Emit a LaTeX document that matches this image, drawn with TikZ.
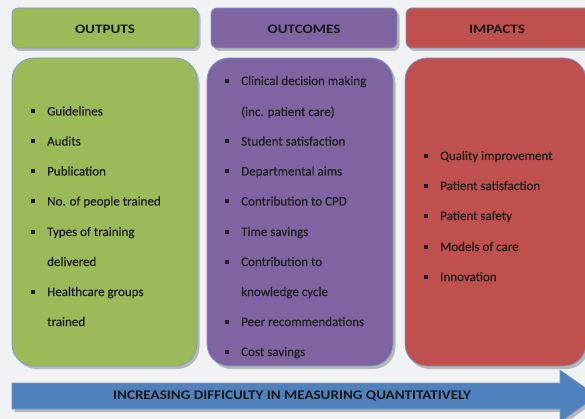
\documentclass[tikz,border=0pt]{standalone}
\usepackage{fontspec}
\setmainfont{Carlito}[FakeBold=0.6]
\newfontfamily\headfont[FakeStretch=1.17]{Carlito}
\newfontfamily\arrowfont[FakeStretch=1.14]{Carlito}
\usetikzlibrary{shadows}
\definecolor{bgc}{HTML}{F1F2F4}
\definecolor{grn}{HTML}{9BBB59}
\definecolor{ppl}{HTML}{8064A2}
\definecolor{rdd}{HTML}{C0504D}
\definecolor{blu}{HTML}{4F81BD}
\definecolor{edge}{HTML}{7A9BCB}
\newcommand{\bul}{\makebox[16pt][l]{\rule[2.4pt]{3.8pt}{3.8pt}}}
\tikzset{
  panel/.style={draw=edge, line width=0.8pt, drop shadow={shadow xshift=2.5pt, shadow yshift=-3pt, opacity=0.45, fill=black!55}},
  headbox/.style={panel, rounded corners=6pt},
  bodybox/.style={panel, rounded corners=22pt},
  headtext/.style={font=\headfont\bfseries\fontsize{12.9}{14}\selectfont, text=black!90},
  item/.style={anchor=base west, inner sep=0pt, font=\fontsize{13}{15}\selectfont, text=black!88},
  cont/.style={item, xshift=16pt}
}
\begin{document}
\begin{tikzpicture}[x=1pt, y=-1pt]
\useasboundingbox (0,0) rectangle (585,419);
\clip (0,0) rectangle (585,419);
\fill[bgc] (0,0) rectangle (585,419);

% column headers
\draw[headbox, fill=grn] (12,8) rectangle (198,48);
\draw[headbox, fill=ppl] (211,8) rectangle (397,48);
\draw[headbox, fill=rdd] (406,8) rectangle (610,48);
\node[headtext] (hout) at (105,29) {OUTPUTS};
\node[headtext] (hoc) at (304,29) {OUTCOMES};
\node[headtext] (himp) at (497,29) {IMPACTS};

% column bodies
\draw[bodybox, fill=grn] (12,58) rectangle (197,366);
\draw[bodybox, fill=ppl] (207,58) rectangle (393,366);
\draw[bodybox, fill=rdd] (405,58) rectangle (586,366);

% outputs
\node[item] (o1) at (31,115.5) {\bul Guidelines};
\node[item] (o2) at (31,145.5) {\bul Audits};
\node[item] (o3) at (31,175.5) {\bul Publication};
\node[item] (o4) at (31,205.5) {\bul No. of people trained};
\node[item] (o5) at (31,236) {\bul Types of training};
\node[cont] (o5b) at (31,266) {delivered};
\node[item] (o6) at (31,296) {\bul Healthcare groups};
\node[cont] (o6b) at (31,326) {trained};

% outcomes
\node[item] (c1) at (225,85) {\bul Clinical decision making};
\node[cont] (c1b) at (225,116) {(inc. patient care)};
\node[item] (c2) at (225,145.5) {\bul Student satisfaction};
\node[item] (c3) at (225,175.5) {\bul Departmental aims};
\node[item] (c4) at (225,205.5) {\bul Contribution to CPD};
\node[item] (c5) at (225,236) {\bul Time savings};
\node[item] (c6) at (225,266) {\bul Contribution to};
\node[cont] (c6b) at (225,296) {knowledge cycle};
\node[item] (c7) at (225,326) {\bul Peer recommendations};
\node[item] (c8) at (225,356) {\bul Cost savings};

% impacts
\node[item] (i1) at (424,160) {\bul Quality improvement};
\node[item] (i2) at (424,190) {\bul Patient satisfaction};
\node[item] (i3) at (424,220) {\bul Patient safety};
\node[item] (i4) at (424,251) {\bul Models of care};
\node[item] (i5) at (424,281) {\bul Innovation};

% difficulty arrow
\draw[draw=edge, line width=0.6pt, fill=blu, drop shadow={shadow xshift=2.5pt, shadow yshift=-3pt, opacity=0.45, fill=black!55}]
  (12,383) -- (560,383) -- (560,370) -- (597,396) -- (560,422) -- (560,409) -- (12,409) -- cycle;
\node[font=\arrowfont\bfseries\fontsize{13.2}{15}\selectfont, text=black!90] (arr) at (292,396) {INCREASING DIFFICULTY IN MEASURING QUANTITATIVELY};
\end{tikzpicture}
\end{document}
